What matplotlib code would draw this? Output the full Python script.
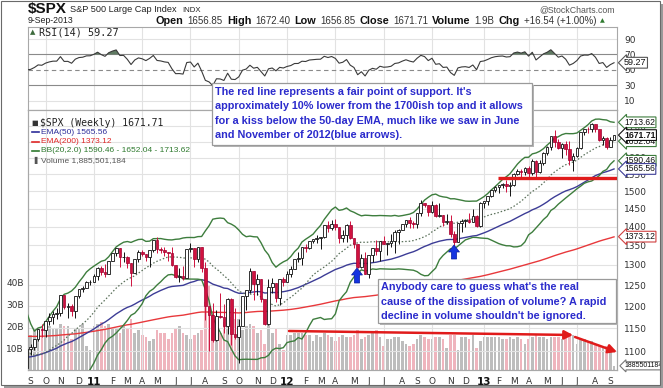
import numpy as np
import pandas as pd
import matplotlib
matplotlib.use("Agg")
import matplotlib.pyplot as plt
from matplotlib.patches import Rectangle, Polygon, FancyArrowPatch
from matplotlib.transforms import blended_transform_factory
from matplotlib.ticker import FixedLocator, NullLocator, FuncFormatter

W, H = 663, 388

# weekly closes Jan-Aug 2010, only used to warm up BB(20) and RSI(14)
warmup_close = [1144.98, 1136.03, 1091.76, 1073.87, 1066.19, 1075.51, 1109.17, 1104.49,
                1138.70, 1149.99, 1159.90, 1166.59, 1178.10, 1194.37, 1192.13, 1217.28,
                1186.69, 1110.88, 1135.68, 1087.69, 1089.41, 1064.88, 1091.60, 1117.51,
                1076.76, 1022.58, 1077.96, 1064.88, 1102.66, 1101.60, 1121.64, 1079.25,
                1071.69, 1064.59]

# weekly bars, week of 30-Aug-2010 to week of 9-Sep-2013
close = [1104.51, 1109.55, 1125.59, 1148.67, 1146.24, 1165.15, 1176.19, 1183.08, 1183.26, 1225.85,
         1199.21, 1199.73, 1189.40, 1224.71, 1240.40, 1243.91, 1256.77, 1257.64,
         1271.50, 1293.24, 1283.35, 1276.34, 1310.87, 1329.15, 1343.01, 1319.88, 1321.15, 1304.28,
         1279.20, 1313.80, 1332.41, 1328.17, 1319.68, 1337.38, 1363.61, 1340.20, 1337.77, 1333.27,
         1331.10, 1300.16, 1270.98, 1271.50, 1268.45, 1339.67, 1343.80, 1316.14, 1345.02, 1292.28,
         1199.38, 1178.81, 1123.53, 1176.80, 1173.97, 1154.23, 1216.01, 1136.43, 1131.42, 1155.46,
         1224.58, 1238.25, 1285.09, 1253.23, 1263.85, 1215.65, 1158.67, 1244.28, 1255.19, 1219.66,
         1265.33, 1257.60,
         1277.81, 1289.09, 1315.38, 1316.33, 1344.90, 1342.64, 1361.23, 1365.74, 1369.63, 1370.87,
         1404.17, 1397.11, 1408.47, 1398.08, 1370.26, 1378.53, 1403.36, 1369.10, 1353.39, 1295.22,
         1317.82, 1278.04, 1325.66, 1342.84, 1335.02, 1362.16, 1354.68, 1356.78, 1362.66, 1385.97,
         1390.99, 1405.87, 1418.16, 1411.13, 1406.58, 1437.92, 1465.77, 1460.15, 1440.67, 1460.93,
         1428.59, 1433.19, 1411.94, 1414.20, 1379.85, 1359.88, 1409.15, 1416.18, 1418.07, 1413.58,
         1430.15, 1402.43, 1466.47,
         1472.05, 1485.98, 1502.96, 1513.17, 1517.93, 1519.79, 1515.60, 1518.20, 1551.18, 1560.70,
         1556.89, 1569.19, 1553.28, 1588.85, 1555.25, 1582.24, 1614.42, 1633.70, 1667.47, 1649.60,
         1630.74, 1643.38, 1626.73, 1592.43, 1606.28, 1631.89, 1680.19, 1692.09, 1691.65, 1709.67,
         1691.42, 1655.83, 1663.50, 1632.97, 1655.17, 1671.71]

high = [1105, 1115, 1126, 1149, 1159, 1167, 1184, 1189, 1196, 1227,
        1227, 1207, 1206, 1225, 1240, 1247, 1259, 1262,
        1278, 1294, 1296, 1302, 1311, 1330, 1344, 1343, 1332, 1323,
        1304, 1315, 1337, 1339, 1328, 1338, 1365, 1371, 1346, 1346,
        1334, 1346, 1300, 1293, 1298, 1341, 1356, 1344, 1347, 1345,
        1307, 1199, 1208, 1190, 1230, 1205, 1220, 1220, 1195, 1171,
        1225, 1239, 1293, 1285, 1277, 1266, 1215, 1265, 1267, 1256,
        1265, 1269,
        1285, 1297, 1316, 1333, 1345, 1354, 1362, 1368, 1378, 1373,
        1405, 1414, 1419, 1422, 1398, 1392, 1406, 1415, 1370, 1354,
        1328, 1334, 1326, 1344, 1364, 1362, 1374, 1356, 1380, 1392,
        1394, 1407, 1419, 1426, 1414, 1438, 1475, 1467, 1460, 1471,
        1464, 1465, 1433, 1434, 1433, 1388, 1409, 1420, 1422, 1438,
        1448, 1431, 1468,
        1472, 1486, 1504, 1514, 1518, 1524, 1531, 1526, 1552, 1564,
        1564, 1570, 1574, 1597, 1593, 1592, 1618, 1636, 1667, 1687,
        1658, 1646, 1654, 1654, 1615, 1632, 1680, 1693, 1698, 1710,
        1709, 1689, 1669, 1664, 1664, 1672.40]

low = [1040, 1092, 1102, 1122, 1131, 1131, 1157, 1159, 1171, 1177,
       1194, 1173, 1177, 1173, 1219, 1233, 1242, 1251,
       1257, 1262, 1275, 1270, 1276, 1310, 1323, 1294, 1306, 1291,
       1249, 1279, 1308, 1322, 1309, 1295, 1333, 1329, 1329, 1322,
       1311, 1296, 1268, 1258, 1262, 1268, 1334, 1295, 1306, 1283,
       1168, 1101, 1120, 1121, 1172, 1140, 1136, 1114, 1127, 1075,
       1156, 1191, 1231, 1215, 1226, 1209, 1158, 1158, 1231, 1209,
       1202, 1249,
       1258, 1269, 1290, 1307, 1300, 1333, 1340, 1357, 1355, 1340,
       1369, 1386, 1391, 1392, 1357, 1358, 1358, 1368, 1343, 1291,
       1292, 1277, 1267, 1307, 1324, 1310, 1354, 1325, 1345, 1329,
       1354, 1390, 1400, 1397, 1397, 1397, 1429, 1455, 1430, 1438,
       1425, 1427, 1403, 1406, 1373, 1343, 1360, 1385, 1398, 1411,
       1413, 1398, 1398,
       1451, 1461, 1482, 1496, 1495, 1508, 1497, 1485, 1514, 1547,
       1538, 1546, 1539, 1548, 1536, 1553, 1577, 1610, 1623, 1635,
       1627, 1598, 1608, 1577, 1560, 1601, 1626, 1671, 1679, 1681,
       1682, 1654, 1639, 1627, 1633, 1656.85]

# weekly volume, billions of shares
volume_b = [17, 16, 19, 19, 18, 18, 20, 19, 19, 21, 20, 20, 14, 19, 19, 21, 11, 9,
            20, 21, 22, 20, 21, 19, 19, 17, 20, 19, 23, 17, 18, 16, 15, 13, 14, 18, 17, 17,
            14, 17, 19, 20, 17, 16, 14, 16, 17, 18,
            31, 38, 27, 23, 17, 22, 24, 24, 23, 23, 18, 20, 21, 20, 17, 18, 12, 21, 17, 19, 12, 9,
            16, 16, 17, 17, 17, 16, 16, 13, 16, 15, 17, 16, 15, 13, 15, 16, 15, 15, 16, 18,
            14, 15, 16, 17, 18, 15, 11, 14, 14, 15, 15, 13, 12, 11, 12, 14, 16, 15, 14, 14,
            15, 15, 14, 10, 16, 16, 9, 15, 15, 14, 16, 10, 13,
            15, 15, 15, 15, 15, 14, 14, 15, 14, 15, 14, 12, 14, 15, 16, 15, 15, 14, 15, 15,
            15, 14, 16, 17, 16, 12, 14, 14, 13, 13, 12, 11, 11, 11, 10, 1.9]

first_open = 1064.59      # prior week's close; weekly opens read as the previous close
ema50_start = 1087.0      # EMA values at the first bar
ema200_start = 1132.0
support_level = 1537.0

close = np.array(close)
high = np.array(high, float)
low = np.array(low, float)
opens = np.r_[first_open, close[:-1]]
vol = np.array(volume_b) * 1e9
n = len(close)
xs = np.arange(n)
dates = pd.date_range("2010-08-30", periods=n, freq="W-MON")

# indicators
allc = np.r_[warmup_close, close]
nw = len(warmup_close)
ser = pd.Series(allc)
bb_mid = ser.rolling(20).mean().values[nw:]
bb_sd = ser.rolling(20).std(ddof=0).values[nw:]
bb_up = bb_mid + 2 * bb_sd
bb_lo = bb_mid - 2 * bb_sd


def ema(vals, span, start):
    a = 2.0 / (span + 1)
    out = np.empty(len(vals))
    out[0] = start
    for i in range(1, len(vals)):
        out[i] = out[i - 1] + a * (vals[i] - out[i - 1])
    return out


ema50 = ema(close, 50, ema50_start)
ema200 = ema(close, 200, ema200_start)

d = np.diff(allc)
gain = np.clip(d, 0, None)
loss = np.clip(-d, 0, None)
rsi_all = np.full(len(allc), np.nan)
ag, al = gain[:14].mean(), loss[:14].mean()
for i in range(14, len(d)):
    ag = (ag * 13 + gain[i]) / 14
    al = (al * 13 + loss[i]) / 14
    rsi_all[i + 1] = 100 - 100 / (1 + ag / al)
rsi = rsi_all[nw:]

# ---- figure
fig = plt.figure(figsize=(W / 100, H / 100), dpi=100)
fig.patch.set_facecolor("white")


def fx(x):
    return x / W


def fy(y):
    return 1 - y / H


L, R = 28, 617
ax_rsi = fig.add_axes([fx(L), fy(110), fx(R) - fx(L), fy(27) - fy(110)])
ax_vol = fig.add_axes([fx(L), fy(370), fx(R) - fx(L), fy(110) - fy(370)], sharex=ax_rsi)
ax = fig.add_axes(ax_vol.get_position(), sharex=ax_rsi)
ax.patch.set_visible(False)

grid_c = "#e2e2e2"
frame_c = "#a8a8a8"
for a in (ax_rsi, ax_vol, ax):
    for sp in a.spines.values():
        sp.set_color(frame_c)
        sp.set_linewidth(0.8)

ax_rsi.set_xlim(0.27, 158.8)

# month ticks at first weekly bar of each month
month_idx, month_lab, quarter_idx = [], [], []
letters = "JFMAMJJASOND"
for i in range(1, n):
    if dates[i].month != dates[i - 1].month:
        m = dates[i].month
        month_idx.append(i)
        month_lab.append(f"{dates[i].year % 100}" if m == 1 else letters[m - 1])
        if m in (1, 4, 7, 10):
            quarter_idx.append(i)

for a in (ax_rsi, ax):
    for q in quarter_idx:
        a.axvline(q, color=grid_c, lw=0.8, zorder=0)

# ---- RSI panel
ax_rsi.set_ylim(-2, 105.6)
for lv in (10, 90):
    ax_rsi.axhline(lv, color=grid_c, lw=0.8, zorder=0)
for lv in (30, 70):
    ax_rsi.axhline(lv, color="#8a8a8a", lw=0.8, zorder=1)
ax_rsi.axhline(50, color="#8a8a8a", lw=0.8, ls=(0, (4, 3)), zorder=1)
ax_rsi.fill_between(xs, 70, rsi, where=rsi > 70, interpolate=True, color="#5f7a62", lw=0, zorder=2)
ax_rsi.fill_between(xs, 30, rsi, where=rsi < 30, interpolate=True, color="#5f7a62", lw=0, zorder=2)
ax_rsi.plot(xs, rsi, color="#3a3a3a", lw=0.8, zorder=3)
ax_rsi.yaxis.tick_right()
ax_rsi.set_yticks([10, 30, 50, 70, 90])
ax_rsi.tick_params(axis="y", length=0, labelsize=6.5, labelcolor="#333333", pad=5)
ax_rsi.tick_params(axis="x", length=0, labelbottom=False)
ax_rsi.text(0.018, 0.935, "RSI(14) 59.27", transform=ax_rsi.transAxes, fontsize=7.3,
            family="DejaVu Sans Mono", color="#222222", va="center", ha="left")
ax_rsi.text(0.004, 0.935, "\u25B2", transform=ax_rsi.transAxes, fontsize=5,
            color="#3d6b3d", va="center", ha="left")

# ---- volume (left scale, behind price)
vcol = np.where(close >= opens, "#bdbdbd", "#efb4bd")
ax_vol.bar(xs, vol, width=0.72, color=vcol, lw=0, zorder=1)
ax_vol.set_ylim(0, 118.2e9)
ax_vol.yaxis.set_major_locator(FixedLocator([10e9, 20e9, 30e9, 40e9]))
ax_vol.yaxis.set_major_formatter(FuncFormatter(lambda v, p: f"{v / 1e9:.0f}B"))
ax_vol.tick_params(axis="y", length=0, labelsize=6.5, labelcolor="#333333", pad=3)
ax_vol.tick_params(axis="x", length=0, labelbottom=False)

# ---- price panel (log)
ax.set_yscale("log")
ax.set_ylim(1060.4, 1755)
price_ticks = np.arange(1100, 1701, 50)
for p in price_ticks:
    ax.axhline(p, color=grid_c, lw=0.8, zorder=0)
ax.yaxis.set_major_locator(FixedLocator(price_ticks))
ax.yaxis.set_minor_locator(NullLocator())
ax.yaxis.set_major_formatter(FuncFormatter(lambda v, p: f"{v:.0f}"))
ax.yaxis.tick_right()
ax.tick_params(axis="y", length=0, labelsize=6.5, labelcolor="#333333", pad=5)
ax.set_xticks(month_idx)
ax.set_xticklabels(month_lab)
ax.tick_params(axis="x", length=0, labelsize=6.5, labelcolor="#333333", pad=5)
for lab in ax.get_xticklabels():
    if lab.get_text().isdigit():
        lab.set_fontweight("bold")
        lab.set_fontsize(7.5)
        lab.set_color("#111111")

ax.plot(xs, ema200, color="#e8383b", lw=1.0, zorder=3)
ax.plot(xs, ema50, color="#3c3c96", lw=1.0, zorder=3)
ax.plot(xs, bb_up, color="#3d7d3d", lw=1.0, zorder=3)
ax.plot(xs, bb_lo, color="#3d7d3d", lw=1.0, zorder=3)
ax.plot(xs, bb_mid, color="#5a705a", lw=0.9, ls=(0, (1.2, 1.6)), zorder=3)

up = close >= opens
red = "#d0123f"
ax.vlines(xs[up], low[up], high[up], color="#111111", lw=0.7, zorder=4)
ax.vlines(xs[~up], low[~up], high[~up], color=red, lw=0.7, zorder=4)
body_lo = np.minimum(opens, close)
body_h = np.maximum(np.abs(close - opens), 0.6)
ax.bar(xs[up], body_h[up], bottom=body_lo[up], width=0.72, facecolor="white",
       edgecolor="#111111", lw=0.6, zorder=5)
ax.bar(xs[~up], body_h[~up], bottom=body_lo[~up], width=0.72, facecolor=red,
       edgecolor="#a00030", lw=0.5, zorder=5)

# support line
ax.hlines(support_level, 126.8, 158.8, color="#e01b1b", lw=2.4, zorder=6)

# legend
ax.text(0.021, 0.951, "$SPX (Weekly) 1671.71", transform=ax.transAxes, fontsize=7,
        family="DejaVu Sans Mono", color="#222222", va="center")
ax.text(0.005, 0.951, "\u25A0", transform=ax.transAxes, fontsize=5, color="#333333", va="center")
leg = [("EMA(50) 1565.56", "#2e2e9a"), ("EMA(200) 1373.12", "#e02828"),
       ("BB(20,2.0) 1590.46 - 1652.04 - 1713.62", "#2f7a2f"),
       ("Volume 1,885,501,184", "#555555")]
for k, (s, c) in enumerate(leg):
    yy = 0.914 - k * 0.0355
    ax.text(0.022, yy, s, transform=ax.transAxes, fontsize=6, family="Liberation Sans",
            color=c, va="center")
    if k < 3:
        ax.plot([0.006, 0.019], [yy, yy], transform=ax.transAxes, color=c, lw=1.2)
    else:
        ax.text(0.005, yy, "\u2590", transform=ax.transAxes, fontsize=5, color=c, va="center")

# value tags on the right
tag_font = dict(family="Liberation Sans", fontsize=6.2, color="#111111", va="center",
                ha="left", clip_on=False, zorder=10)
tr_p = blended_transform_factory(ax.transAxes, ax.transData)
tags = [(1713.62, "1713.62", "#3d7d3d", "normal"), (1652.04, "1652.04", "#3d7d3d", "normal"),
        (1671.71, "1671.71", "#111111", "bold"), (1590.46, "1590.46", "#3d7d3d", "normal"),
        (1565.56, "1565.56", "#3c3c96", "normal"), (1373.12, "1373.12", "#d04040", "normal")]
for v, s, c, fw in tags:
    ax.text(1.012, v, s, transform=tr_p, fontweight=fw,
            bbox=dict(boxstyle="larrow,pad=0.1", fc="white", ec=c, lw=0.8), **tag_font)
tr_v = blended_transform_factory(ax_vol.transAxes, ax_vol.transData)
ax_vol.text(1.012, vol[-1], "1885501184", transform=tr_v,
            bbox=dict(boxstyle="larrow,pad=0.08", fc="white", ec="#777777", lw=0.8),
            **{**tag_font, "fontsize": 5.0})
tr_r = blended_transform_factory(ax_rsi.transAxes, ax_rsi.transData)
ax_rsi.text(1.012, rsi[-1], "59.27", transform=tr_r,
            bbox=dict(boxstyle="larrow,pad=0.1", fc="white", ec="#555555", lw=0.8),
            **{**tag_font, "fontsize": 6.5})

# ---- header
renderer = fig.canvas.get_renderer()


def seq_text(x, y, pieces, gap=3.5):
    for s, kw in pieces:
        t = fig.text(fx(x), fy(y), s, va="center", ha="left", **kw)
        x = t.get_window_extent(renderer=renderer).x1 + gap
    return x


ff = "Liberation Sans"
x0 = seq_text(28, 9, [("$SPX", dict(fontsize=11, fontweight="bold", family=ff, color="#111111"))])
x0 = seq_text(x0, 9.5, [("S&P 500 Large Cap Index", dict(fontsize=6.6, family=ff, color="#222222"))])
seq_text(x0 + 2, 10, [("INDX", dict(fontsize=5.6, family=ff, color="#222222"))])
fig.text(fx(615), fy(9.5), "@StockCharts.com", fontsize=6.3, family=ff, color="#555555",
         ha="right", va="center")
fig.text(fx(28), fy(20.5), "9-Sep-2013", fontsize=6.3, family=ff, color="#222222", va="center")
b = dict(fontsize=7.8, family=ff, fontweight="bold", color="#111111")
r_ = dict(fontsize=7.0, family=ff, color="#333333")
seq_text(156, 20.5, [("Open", b), ("1656.85", r_), ("High", b), ("1672.40", r_), ("Low", b),
                     ("1656.85", r_), ("Close", b), ("1671.71", r_), ("Volume", b), ("1.9B", r_),
                     ("Chg", b), ("+16.54 (+1.00%)", r_),
                     ("\u25B2", dict(fontsize=4.5, family="DejaVu Sans", color="#2f7a2f"))], gap=4)

# ---- annotation boxes
blue_txt = "#2b2bcc"


def note_box(x0, y0, x1, y1, lines, tx, ty0, dy):
    fig.add_artist(Rectangle((fx(x0 + 2), fy(y1 + 2)), fx(x1 - x0), (y1 - y0) / H,
                             transform=fig.transFigure, fc="#b5b5b5", ec="none", zorder=20))
    fig.add_artist(Rectangle((fx(x0), fy(y1)), fx(x1 - x0), (y1 - y0) / H,
                             transform=fig.transFigure, fc="white", ec="#9a9a9a", lw=0.9, zorder=21))
    for k, s in enumerate(lines):
        fig.text(fx(tx), fy(ty0 + k * dy), s, fontsize=7.8, family=ff, fontweight="bold",
                 color=blue_txt, va="center", ha="left", zorder=22)


note_box(212, 83, 532, 145,
         ["The red line represents a fair point of support. It's",
          "approximately 10% lower from the 1700ish top and it allows",
          "for a kiss below the 50-day EMA, much like we saw in June",
          "and November of 2012(blue arrows)."], 215, 92, 14.4)
note_box(378, 279, 616, 323,
         ["Anybody care to guess what's the real",
          "cause of the dissipation of volume? A rapid",
          "decline in volume shouldn't be ignored."], 381, 287.5, 14.3)


# blue up arrows
def up_arrow(xc, ytip, ybase):
    hw, sw, hh = 5.5, 2.6, 7
    pts = [(xc, ytip), (xc + hw, ytip + hh), (xc + sw, ytip + hh), (xc + sw, ybase),
           (xc - sw, ybase), (xc - sw, ytip + hh), (xc - hw, ytip + hh)]
    fig.add_artist(Polygon([(fx(a), fy(c)) for a, c in pts], closed=True,
                           transform=fig.transFigure, fc="#1434e0", ec="#0a20a0", lw=0.5, zorder=15))


up_arrow(357, 268, 283)
up_arrow(454, 245, 259)

# red arrows over the volume
for (xa, ya), (xb, yb) in [((289, 331), (573, 335)), ((575, 337), (617, 352))]:
    fig.add_artist(FancyArrowPatch((fx(xa), fy(ya)), (fx(xb), fy(yb)), transform=fig.transFigure,
                                   arrowstyle="-|>,head_length=5,head_width=2.6", color="#e01b1b",
                                   lw=1.8, zorder=15, shrinkA=0, shrinkB=0))

# picture frame
fig.add_artist(Rectangle((fx(660), fy(386)), 3 / W, 382 / H, transform=fig.transFigure,
                         fc="#9a9a9a", ec="none", zorder=30))
fig.add_artist(Rectangle((fx(4), fy(388)), 659 / W, 3 / H, transform=fig.transFigure,
                         fc="#9a9a9a", ec="none", zorder=30))
fig.add_artist(Rectangle((fx(0.5), fy(384.5)), 659 / W, 384 / H, transform=fig.transFigure,
                         fc="none", ec="#6a6a6a", lw=0.8, zorder=31))

fig.savefig("out.png", dpi=100)
